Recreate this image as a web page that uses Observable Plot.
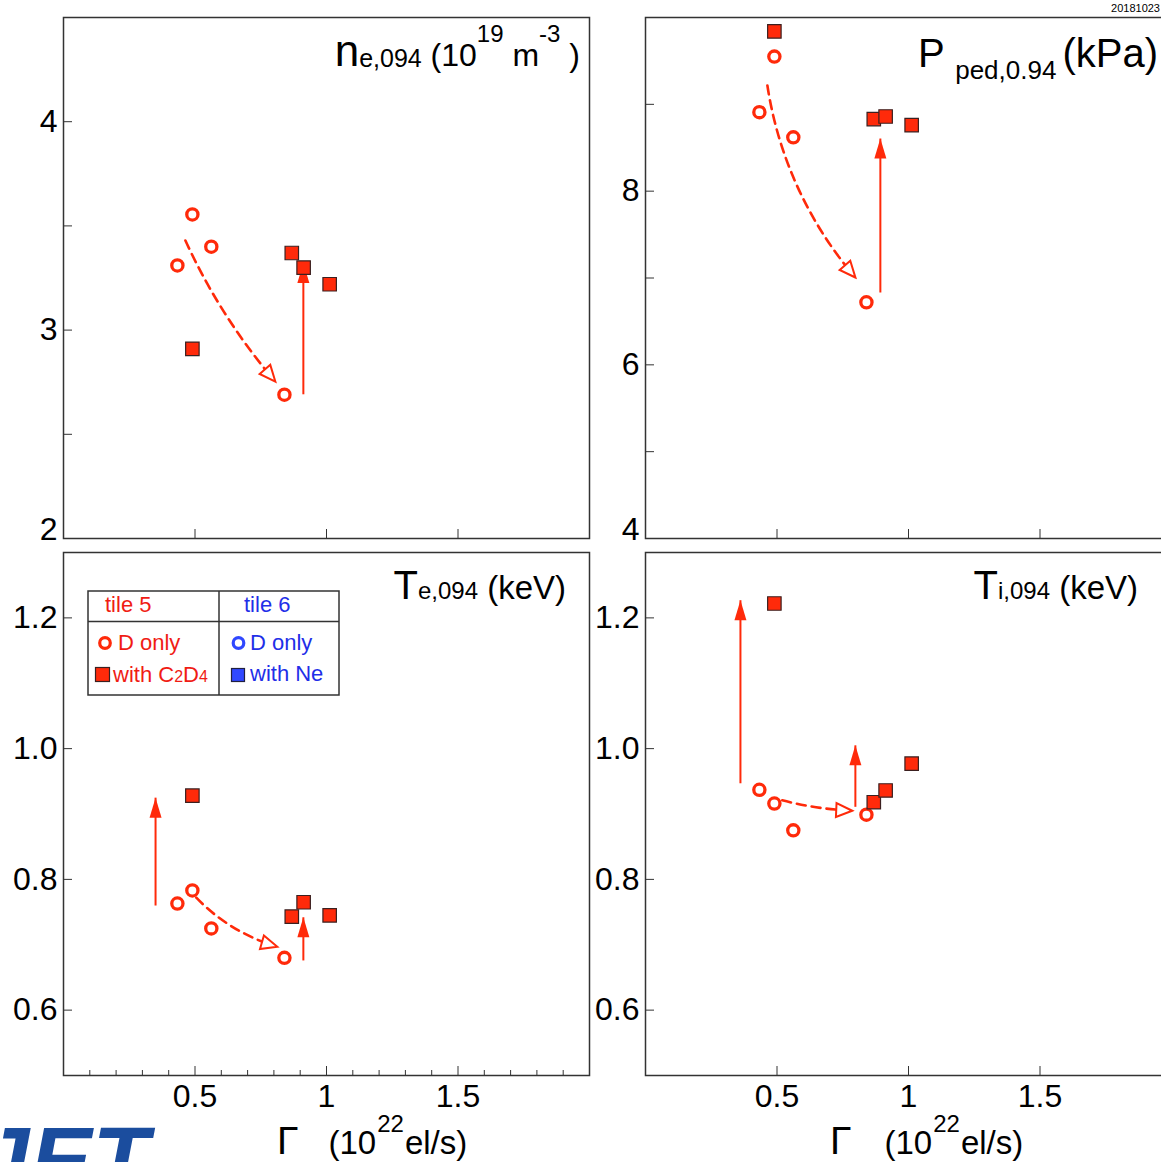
<!DOCTYPE html>
<html>
<head>
<meta charset="utf-8">
<script src="https://cdn.jsdelivr.net/npm/d3@7"></script>
<script src="https://cdn.jsdelivr.net/npm/@observablehq/plot@0.6"></script>
<style>
  html, body { margin: 0; padding: 0; background: #fff; }
  #fig { position: relative; width: 1161px; height: 1162px; overflow: hidden; background: #fff; }
  #logo { position: absolute; left: -22px; top: 1114px; margin: 0; color: #1b4d9e;
          font: italic bold 92px "Liberation Sans", Arial, Helvetica, sans-serif; line-height: 1; letter-spacing: 1px; }
</style>
</head>
<body>
<div id="fig"><div id="logo">JET</div></div>
<script>
// Fuelling rate Γ (10^22 el/s) of each pulse
const gammaDOnly  = [0.433, 0.49, 0.562, 0.84];   // tile 5, D only (open circles)
const gammaSeeded = [0.49, 0.868, 0.913, 1.012];  // tile 5, with C2D4 (filled squares)

// Pedestal quantities at ρ = 0.94, same pulse order as the Γ arrays
const neDOnly = [3.31, 3.555, 3.40, 2.69];
const neSeeded = [2.91, 3.37, 3.30, 3.22];
const pDOnly = [8.91, 9.55, 8.62, 6.72];
const pSeeded = [9.84, 8.83, 8.86, 8.76];
const teDOnly = [0.763, 0.783, 0.725, 0.680];
const teSeeded = [0.928, 0.743, 0.765, 0.745];
const tiDOnly = [0.937, 0.916, 0.875, 0.899];
const tiSeeded = [1.222, 0.918, 0.936, 0.977];

// Trend arrows as [Γ start, value start, Γ end, value end]
// dashed: D-only trend with fuelling; solid: change when seeding is added
const neTrend = [0.4635, 3.43, 0.8055, 2.753];
const neSeedArrows = [[0.912, 2.692, 0.912, 3.322]];
const pTrend = [0.4635, 9.217, 0.798, 7.006];
const pSeedArrows = [[0.893, 6.833, 0.893, 8.606]];
const teTrend = [0.505, 0.772, 0.813, 0.697];
const teSeedArrows = [[0.35, 0.760, 0.35, 0.925], [0.912, 0.676, 0.912, 0.742]];
const tiTrend = [0.52, 0.921, 0.786, 0.905];
const tiSeedArrows = [[0.361, 0.947, 0.361, 1.227], [0.798, 0.911, 0.798, 1.005]];

// Axis ticks
const xDomain = [0, 2];
const xMajor = [0.5, 1, 1.5];
const xMinor = [0.1, 0.2, 0.3, 0.4, 0.6, 0.7, 0.8, 0.9, 1.1, 1.2, 1.3, 1.4, 1.6, 1.7, 1.8, 1.9];
const neTicks = [2.5, 3, 3.5, 4], neLabels = [3, 4], neLow = 2;
const pTicks = [5, 6, 7, 8, 9], pLabels = [6, 8], pLow = 4;
const tTicks = [0.6, 0.8, 1.0, 1.2];

const FONT = '"Liberation Sans", Arial, Helvetica, sans-serif';
const RED = "#ff2a0a";
const TXT_RED = "#f01c14";
const TXT_BLUE = "#1f2fe8";
const BLUE = "#3048ff";
const FRAME = "#333";

// Arrow heads drawn with their tip at the anchor point, pointing up before rotation
const solidHead = { draw(ctx) { ctx.moveTo(0, 0); ctx.lineTo(6, 20); ctx.lineTo(-6, 20); ctx.closePath(); } };
const openHead  = { draw(ctx) { ctx.moveTo(0, 0); ctx.lineTo(7, 16); ctx.lineTo(-7, 16); ctx.closePath(); } };

const fig = document.getElementById("fig");

function drawPanel(cfg) {
  const width = 600;
  const {left, top, height, ml, mr, mt, mb} = cfg;
  // pixel mapping identical to the plot's own scales, used to orient the dashed arrow head
  const sx = d3.scaleLinear(xDomain, [ml, width - mr]);
  const sy = d3.scaleLinear(cfg.yDomain, [height - mb, mt]);
  const [tx1, ty1, tx2, ty2] = cfg.trend;
  const chord = Math.atan2(sy(ty2) - sy(ty1), sx(tx2) - sx(tx1));
  const headRotate = chord * 180 / Math.PI + cfg.bend + 90;

  const dOnly = gammaDOnly.map((g, i) => ({g, v: cfg.dOnly[i]}));
  const seeded = gammaSeeded.map((g, i) => ({g, v: cfg.seeded[i]}));
  const yFmt = d3.format(cfg.yFormat);
  const blank = () => "";

  const marks = [
    Plot.frame({stroke: FRAME, strokeWidth: 1.5}),
    Plot.axisY({ticks: cfg.yTicks, tickSize: 9, dx: 9, tickFormat: blank, label: null, stroke: FRAME}),
    Plot.axisY({ticks: cfg.yLabels, tickSize: 0, tickPadding: 6, tickFormat: yFmt, label: null, fontSize: 32, color: "#000"}),
    Plot.axisX({ticks: xMajor, tickSize: 9, dy: -9, tickFormat: blank, label: null, stroke: FRAME})
  ];
  if (cfg.yLow != null) {
    marks.push(Plot.axisY({ticks: [cfg.yLow], tickSize: 0, tickPadding: 6, dy: -9, tickFormat: yFmt, label: null, fontSize: 32, color: "#000"}));
  }
  if (cfg.minorX) {
    marks.push(Plot.axisX({ticks: xMinor, tickSize: 5, dy: -5, tickFormat: blank, label: null, stroke: FRAME}));
  }
  if (cfg.xLabels) {
    marks.push(Plot.axisX({ticks: xMajor, tickSize: 0, tickPadding: 9, tickFormat: d3.format("~g"), label: null, fontSize: 32, color: "#000"}));
  }
  marks.push(
    Plot.arrow([cfg.trend], {
      x1: d => d[0], y1: d => d[1], x2: d => d[2], y2: d => d[3],
      bend: cfg.bend, headLength: 0, insetEnd: 12,
      stroke: RED, strokeWidth: 2.6, strokeDasharray: "9,6"
    }),
    Plot.dot([cfg.trend], {x: d => d[2], y: d => d[3], symbol: openHead, r: 1, rotate: headRotate, fill: "white", stroke: RED, strokeWidth: 2}),
    Plot.link(cfg.seedArrows, {x1: d => d[0], y1: d => d[1], x2: d => d[2], y2: d => d[3], stroke: RED, strokeWidth: 2}),
    Plot.dot(cfg.seedArrows, {x: d => d[2], y: d => d[3], symbol: solidHead, r: 1, fill: RED}),
    Plot.dot(dOnly, {x: d => d.g, y: d => d.v, r: 5.6, fill: "white", stroke: RED, strokeWidth: 3.3}),
    Plot.dot(seeded, {x: d => d.g, y: d => d.v, symbol: "square", r: 7.6, fill: RED, stroke: "#3b2020", strokeWidth: 1.2})
  );

  const svg = Plot.plot({
    width, height,
    marginLeft: ml, marginRight: mr, marginTop: mt, marginBottom: mb,
    x: {domain: xDomain, label: null},
    y: {domain: cfg.yDomain, label: null},
    style: {background: "transparent", overflow: "visible", maxWidth: "none", fontFamily: FONT, color: "#000"},
    marks
  });
  svg.style.position = "absolute";
  svg.style.left = left + "px";
  svg.style.top = top + "px";
  fig.appendChild(svg);
  return d3.select(svg);
}

// Text built from runs of [text, font size, dy, dx]
function addText(svg, x, y, parts, anchor = "end", fill = "#000") {
  const t = svg.append("text")
    .attr("x", x).attr("y", y)
    .attr("text-anchor", anchor)
    .attr("fill", fill)
    .style("font-family", FONT);
  for (const [s, size, dy = 0, dx = 0] of parts) {
    t.append("tspan").attr("font-size", size).attr("dy", dy).attr("dx", dx).text(s);
  }
  return t;
}

// Top left: pedestal density
const neSvg = drawPanel({
  left: 0, top: 0, height: 545, ml: 63, mr: 11, mt: 17, mb: 7,
  yDomain: [2, 4.5], yTicks: neTicks, yLabels: neLabels, yLow: neLow, yFormat: "d",
  dOnly: neDOnly, seeded: neSeeded, trend: neTrend, bend: -8, seedArrows: neSeedArrows,
  minorX: false, xLabels: false
});
addText(neSvg, 580, 66, [
  ["n", 44], ["e,094", 25, 1], [" (10", 32, -1], ["19", 24, -24], [" m", 32, 24], ["-3", 24, -24], [" )", 32, 24]
]);

// Top right: pedestal pressure
const pSvg = drawPanel({
  left: 600, top: 0, height: 545, ml: 45, mr: 29, mt: 17, mb: 7,
  yDomain: [4, 10], yTicks: pTicks, yLabels: pLabels, yLow: pLow, yFormat: "d",
  dOnly: pDOnly, seeded: pSeeded, trend: pTrend, bend: -16, seedArrows: pSeedArrows,
  minorX: false, xLabels: false
});
addText(pSvg, 558, 67, [["P", 40], [" ", 40], ["ped,0.94", 26, 12], ["(kPa)", 40, -12, 6]]);
addText(pSvg, 560, 12, [["20181023", 11]]);

// Bottom left: pedestal electron temperature, with the legend table
const teSvg = drawPanel({
  left: 0, top: 545, height: 617, ml: 63, mr: 11, mt: 7, mb: 87,
  yDomain: [0.5, 1.3], yTicks: tTicks, yLabels: tTicks, yLow: null, yFormat: ".1f",
  dOnly: teDOnly, seeded: teSeeded, trend: teTrend, bend: -15, seedArrows: teSeedArrows,
  minorX: true, xLabels: true
});
addText(teSvg, 566, 54, [["T", 40], ["e,094", 24], [" (keV)", 33]]);
addText(teSvg, 277, 609, [["Γ", 39], ["(10", 33, 0, 30], ["22", 24, -22, 1], ["el/s)", 33, 22, 1]], "start");

// Legend table
const lg = teSvg.append("g");
lg.append("rect").attr("x", 88).attr("y", 46).attr("width", 251).attr("height", 104)
  .attr("fill", "white").attr("stroke", FRAME).attr("stroke-width", 1.5);
lg.append("line").attr("x1", 219).attr("x2", 219).attr("y1", 46).attr("y2", 150).attr("stroke", FRAME).attr("stroke-width", 1.5);
lg.append("line").attr("x1", 88).attr("x2", 339).attr("y1", 76.5).attr("y2", 76.5).attr("stroke", FRAME).attr("stroke-width", 1.5);
addText(lg, 105, 67, [["tile 5", 22]], "start", TXT_RED);
addText(lg, 244, 67, [["tile 6", 22]], "start", TXT_BLUE);
lg.append("circle").attr("cx", 105).attr("cy", 98).attr("r", 5.3).attr("fill", "white").attr("stroke", RED).attr("stroke-width", 3.2);
addText(lg, 118, 105, [["D only", 22]], "start", TXT_RED);
lg.append("circle").attr("cx", 238.5).attr("cy", 98).attr("r", 5.3).attr("fill", "white").attr("stroke", BLUE).attr("stroke-width", 3.2);
addText(lg, 250, 105, [["D only", 22]], "start", TXT_BLUE);
lg.append("rect").attr("x", 95.5).attr("y", 122.5).attr("width", 14).attr("height", 14).attr("fill", RED).attr("stroke", "#3b2020").attr("stroke-width", 1.2);
addText(lg, 113, 137, [["with C", 22], ["2", 16], ["D", 22], ["4", 16]], "start", TXT_RED);
lg.append("rect").attr("x", 231.5).attr("y", 123.5).attr("width", 13).attr("height", 13).attr("fill", BLUE).attr("stroke", "#202040").attr("stroke-width", 1.2);
addText(lg, 250, 136, [["with Ne", 22]], "start", TXT_BLUE);

// Bottom right: pedestal ion temperature
const tiSvg = drawPanel({
  left: 600, top: 545, height: 617, ml: 45, mr: 29, mt: 7, mb: 87,
  yDomain: [0.5, 1.3], yTicks: tTicks, yLabels: tTicks, yLow: null, yFormat: ".1f",
  dOnly: tiDOnly, seeded: tiSeeded, trend: tiTrend, bend: -6, seedArrows: tiSeedArrows,
  minorX: false, xLabels: true
});
addText(tiSvg, 538, 54, [["T", 40], ["i,094", 24], [" (keV)", 33]]);
addText(tiSvg, 230, 609, [["Γ", 39], ["(10", 33, 0, 33], ["22", 24, -22, 1], ["el/s)", 33, 22, 1]], "start");
</script>
</body>
</html>
